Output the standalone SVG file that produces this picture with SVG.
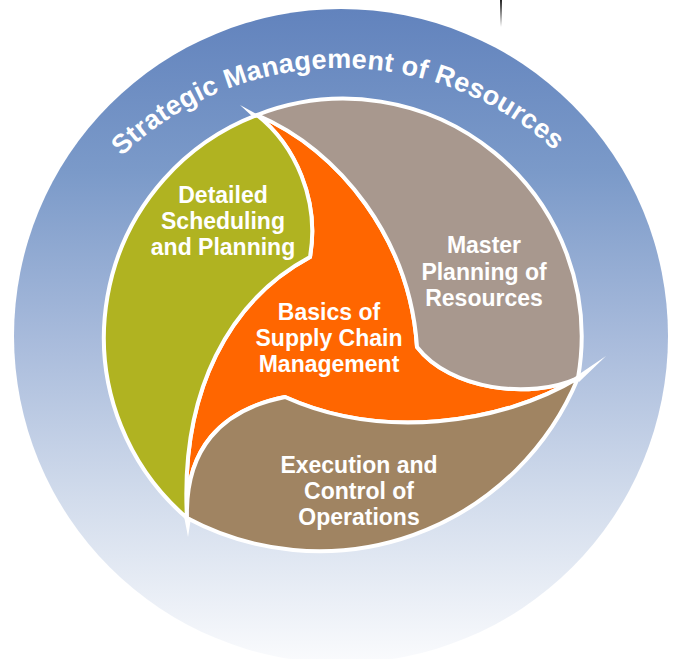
<svg xmlns="http://www.w3.org/2000/svg" width="674" height="659" viewBox="0 0 674 659">
  <defs>
    <linearGradient id="ringGrad" x1="0" y1="0" x2="0" y2="1">
      <stop offset="0" stop-color="#6283BD"/>
      <stop offset="0.25" stop-color="#7B9AC9"/>
      <stop offset="0.5" stop-color="#A7BADB"/>
      <stop offset="0.75" stop-color="#D2DCEC"/>
      <stop offset="1" stop-color="#FAFBFD"/>
    </linearGradient>
    <linearGradient id="lineGrad" x1="0" y1="0" x2="0" y2="1">
      <stop offset="0" stop-color="#222"/>
      <stop offset="1" stop-color="#222" stop-opacity="0"/>
    </linearGradient>
    <path id="textArc" d="M24,385 A317,317 0 0 1 658,385"/>
  </defs>
  <style>
    .seg { stroke: #FFFFFF; stroke-width: 4; stroke-linejoin: miter; }
    .lbl { font-family: "Liberation Sans", Arial, sans-serif; font-weight: bold; font-size: 23px; fill: #FFFFFF; text-anchor: middle; }
    .ringlbl { font-family: "Liberation Sans", Arial, sans-serif; font-weight: bold; font-size: 27px; fill: #FFFFFF; letter-spacing: 0.3px; }
  </style>

  <rect x="500" y="0" width="2" height="27" fill="url(#lineGrad)"/>

  <g id="ring">
    <circle cx="341" cy="336" r="327" fill="url(#ringGrad)"/>
    <text class="ringlbl"><textPath href="#textArc" startOffset="49.6%" text-anchor="middle">Strategic Management of Resources</textPath></text>
  </g>

  <g id="node-basics">
    <path class="seg" fill="#FF6600" d="M257,115 C295,145 320,200 310,257 C230,300 180,390 187,518 C185,450 220,410 285,397 C380,440 500,425 578,378 C530,400 450,390 417,347 C410,240 340,150 257,115 Z"/>
  </g>
  <g id="node-detailed">
    <path class="seg" fill="#B0B321" d="M257,115 A238,238 0 0 0 187,518 C180,390 230,300 310,257 C320,200 295,145 257,115 Z"/>
  </g>
  <g id="node-master">
    <path class="seg" fill="#A8988E" d="M257,115 A238,238 0 0 1 578,378 C530,400 450,390 417,347 C410,240 340,150 257,115 Z"/>
  </g>
  <g id="node-execution">
    <path class="seg" fill="#A08462" d="M578,378 A280,280 0 0 1 187,518 C185,450 220,410 285,397 C380,440 500,425 578,378 Z"/>
  </g>

  <g id="connectors" fill="#FFFFFF">
    <path d="M262,117 L240,105 L254,118 Z"/>
    <path d="M575,377 L606,356 L579,382 Z"/>
    <path d="M184,516 L188,537 L191,518 Z"/>
  </g>

  <g id="labels">
    <text class="lbl" x="223" y="203">Detailed</text>
    <text class="lbl" x="223" y="229">Scheduling</text>
    <text class="lbl" x="223" y="255">and Planning</text>
    <text class="lbl" x="484" y="253">Master</text>
    <text class="lbl" x="484" y="280">Planning of</text>
    <text class="lbl" x="484" y="306">Resources</text>
    <text class="lbl" x="329" y="320">Basics of</text>
    <text class="lbl" x="329" y="346">Supply Chain</text>
    <text class="lbl" x="329" y="372">Management</text>
    <text class="lbl" x="359" y="473">Execution and</text>
    <text class="lbl" x="359" y="499">Control of</text>
    <text class="lbl" x="359" y="525">Operations</text>
  </g>
</svg>
